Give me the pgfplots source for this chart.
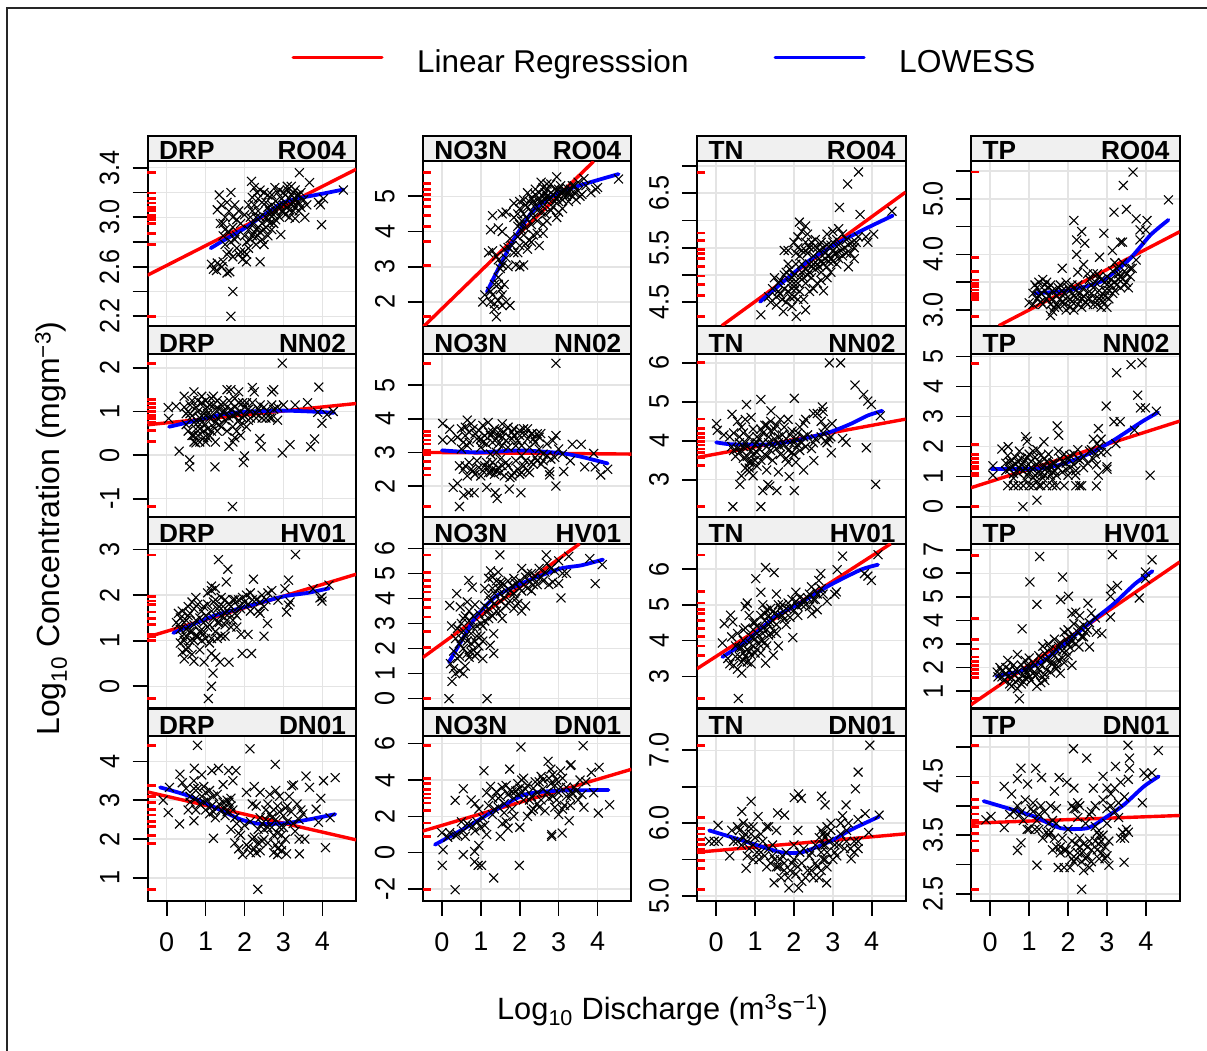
\documentclass[border=0pt]{standalone}
\usepackage{fontspec}
\setmainfont{Liberation Sans}
\newfontfamily\rotf[FakeStretch=0.9]{Liberation Sans}
\usepackage{pgfplots}
\pgfplotsset{compat=1.18}
\definecolor{gridc}{HTML}{E4E4E4}
\definecolor{stripc}{HTML}{F0F0F0}
\pgfplotsset{
  pan/.style n args={5}{
    at={(#1pt,-#2pt)},anchor=north west,scale only axis,
    width=208.7pt,height=#3pt,
    xmin=-0.494,xmax=4.87,ymin=#4,ymax=#5,
    xtick={0,1,2,3,4},
    tick align=outside,tick pos=left,major tick length=15pt,
    every tick/.style={black,line width=1.6pt},
    axis line style={line width=2pt,black},
    grid=major,grid style={gridc,line width=1.5pt},
    y tick label style={rotate=90,anchor=south,font=\fontsize{28}{28}\selectfont\rotf,yshift=9.5pt},
    x tick label style={font=\fontsize{27}{27}\selectfont,yshift=-13pt},
  },
  nox/.style={xticklabels={},x tick style={draw=none},xtick style={draw=none}},
  withx/.style={xticklabels={0,1,2,3,4}},
}
\newcommand\extra[1]{%
  \addplot[only marks,mark=x,mark size=6.3,mark options={black,line width=1.1pt},forget plot] coordinates {#1};
}
\newcommand\series[4]{%
  \addplot[only marks,mark=x,mark size=6.3,mark options={black,line width=1.1pt},forget plot] coordinates {#1};
  \addplot[only marks,mark=-,mark size=4.2,mark options={red,line width=2.8pt},forget plot] coordinates {#2};
  \addplot[red,line width=3.4pt,forget plot] coordinates {#3};
  \addplot[blue,line width=3.8pt,line cap=round,smooth,tension=0.4,forget plot] coordinates {#4};
}
\newcommand\Strip[5]{%
  \pgfmathsetmacro\rr{#1+208.7}\pgfmathsetmacro\la{#1+11.5}\pgfmathsetmacro\ra{#1+198.7}%
  \path[fill=stripc,draw=black,line width=2pt] (#1pt,-#2pt) rectangle (\rr pt,-#3pt);
  \node[anchor=base west,inner sep=0pt,font=\fontsize{26.2}{26}\selectfont\bfseries] at (\la pt,-#3pt+1.5pt) {#4};
  \node[anchor=base east,inner sep=0pt,font=\fontsize{26.2}{26}\selectfont\bfseries] at (\ra pt,-#3pt+1.5pt) {#5};
}
\begin{document}
\begin{tikzpicture}
\path[use as bounding box,fill=white] (0pt,0pt) rectangle (1207pt,-1051pt);
\draw[line width=1.8pt,black!85] (7pt,-1051pt)--(7pt,-8.3pt)--(1207pt,-8.3pt);
% legend
\draw[red,line width=3pt,line cap=round] (293pt,-57.3pt)--(382pt,-57.3pt);
\draw[blue,line width=3pt,line cap=round] (775pt,-57.3pt)--(864pt,-57.3pt);
\node[anchor=base west,inner sep=0pt,font=\fontsize{31.5}{32}\selectfont] at (417pt,-72.3pt) {Linear Regresssion};
\node[anchor=base west,inner sep=0pt,font=\fontsize{31.8}{32}\selectfont] at (899pt,-72.3pt) {LOWESS};
% axis titles
\node[rotate=90,anchor=center,inner sep=0pt,font=\fontsize{32}{33}\selectfont] at (51pt,-528.5pt) {Log\textsubscript{10} Concentration (mgm\textsuperscript{−3})};
\node[anchor=base,inner sep=0pt,font=\fontsize{30.8}{31}\selectfont] at (662.5pt,-1019pt) {Log\textsubscript{10} Discharge (m\textsuperscript{3}s\textsuperscript{−1})};
% strips
\Strip{147.5}{135.7}{161.3}{DRP}{RO04}\Strip{422.7}{135.7}{161.3}{NO3N}{RO04}\Strip{696.9}{135.7}{161.3}{TN}{RO04}\Strip{971}{135.7}{161.3}{TP}{RO04}
\Strip{147.5}{325.7}{353.5}{DRP}{NN02}\Strip{422.7}{325.7}{353.5}{NO3N}{NN02}\Strip{696.9}{325.7}{353.5}{TN}{NN02}\Strip{971}{325.7}{353.5}{TP}{NN02}
\Strip{147.5}{517.3}{543.7}{DRP}{HV01}\Strip{422.7}{517.3}{543.7}{NO3N}{HV01}\Strip{696.9}{517.3}{543.7}{TN}{HV01}\Strip{971}{517.3}{543.7}{TP}{HV01}
\Strip{147.5}{708.6}{735.7}{DRP}{DN01}\Strip{422.7}{708.6}{735.7}{NO3N}{DN01}\Strip{696.9}{708.6}{735.7}{TN}{DN01}\Strip{971}{708.6}{735.7}{TP}{DN01}

% ---------- row 1
\begin{axis}[pan={147.5}{161.3}{164.4}{2.124}{3.452},nox,ytick={2.2,2.4,2.6,2.8,3.0,3.2,3.4},yticklabels={2.2,{},2.6,{},3.0,{},3.4}]
\extra{(1.5,2.9)(1.55,2.7)(1.6,2.72)(1.7,2.68)(1.75,2.82)(1.85,2.7)(1.95,2.66)(2.05,2.7)(2.1,2.75)(2.15,2.82)(2.25,2.88)(2.3,2.84)(2.35,2.92)(2.4,2.88)(2.45,2.82)(2.5,2.9)(2.55,2.92)(2.6,2.98)(2.65,3.02)(2.7,2.9)(2.75,2.95)(2.8,3.05)(2.85,3.08)(2.9,3.1)(2.95,3.05)(3.0,3.1)(3.05,3.02)(3.1,3.08)(3.15,3.06)(3.2,3.1)(3.25,3.05)(3.3,3.15)(3.35,3.12)(3.4,3.12)(3.45,3.08)(2.35,3.15)(2.4,3.22)(2.55,3.12)(2.6,3.18)(2.65,3.05)(2.2,3.16)(2.3,3.0)(2.2,3.05)(1.4,3.1)(1.45,2.95)(1.55,3.12)(1.7,3.0)(1.8,2.98)(1.6,2.88)(2.0,2.85)(3.1,3.25)(3.2,3.18)(3.3,3.22)(3.4,3.18)(3.05,3.18)(2.9,3.22)}
\series{(1.65,2.2)(1.7,2.4)(3.41,3.36)(3.67,3.28)(3.98,2.94)(2.93,2.86)(4.54,3.22)(4.03,3.15)(3.9,3.12)(3.95,3.1)(1.15,2.62)(1.2,2.58)(1.3,2.63)(1.42,2.6)(1.45,2.64)(1.55,2.55)(1.28,2.57)(1.62,2.56)(2.05,2.64)(2.4,2.64)(1.35,3.18)(1.65,3.2)(1.3,3.06)(2.18,3.29)(2.25,3.24)(2.32,3.2)(2.78,3.24)(2.85,3.2)(3.1,3.22)(3.25,3.2)(3.2,3.25)(3.35,3.18)(3.45,3.2)(3.52,3.14)(3.6,3.1)(3.4,3.05)(3.55,3.0)(3.3,2.99)(3.15,3.0)(3.0,3.05)(2.8,2.98)(2.6,2.85)(2.45,2.95)(2.5,2.78)(2.2,2.85)(2.05,2.8)(2.0,2.72)(1.9,2.72)(1.8,2.75)(1.65,2.8)(1.5,2.78)(1.45,2.85)(1.38,2.95)(1.5,3.0)(1.6,3.05)(1.75,3.1)(1.85,3.05)(1.9,2.95)(2.0,3.02)(2.1,3.1)(2.25,3.1)(2.35,3.05)(2.45,3.12)(2.6,3.08)(2.7,3.1)(2.8,3.13)(2.95,3.15)(3.05,3.12)(3.15,3.15)(3.25,3.12)(2.2,2.95)(2.3,2.9)(2.4,3.0)(2.55,3.0)(2.65,2.95)(2.75,3.02)(2.9,3.0)(1.7,2.92)(1.8,2.85)(2.1,2.9)(2.15,3.0)(2.3,2.78)(2.7,3.18)(3.0,3.2)(3.3,3.08)(2.5,3.2)}
{(-.39,3.363)(-.39,3.196)(-.39,3.15)(-.39,3.115)(-.39,3.08)(-.39,3.053)(-.39,3.018)(-.39,3.0)(-.39,2.983)(-.39,2.951)(-.39,2.87)(-.39,2.78)(-.39,2.2)}
{(-0.494,2.532)(4.87,3.388)}
{(1.13,2.75)(1.5,2.82)(2,2.91)(2.5,3.02)(3,3.12)(3.5,3.16)(4,3.19)(4.54,3.224)}
\end{axis}
\begin{axis}[pan={422.7}{161.3}{164.4}{1.327}{5.993},nox,ytick={2,3,4,5},yticklabels={2,3,4,5}]
\extra{(2.0,4.2)(2.1,4.5)(2.15,4.75)(2.25,4.85)(2.35,4.85)(2.45,4.9)(2.5,4.95)(2.55,4.85)(2.6,5.0)(2.65,5.1)(2.7,5.0)(2.75,4.9)(2.8,4.95)(2.85,5.05)(2.9,4.85)(2.95,4.95)(3.0,5.2)(3.05,5.1)(3.1,4.9)(3.15,5.15)(3.2,5.0)(3.25,5.1)(3.3,5.05)(3.35,5.3)(3.4,5.1)(3.5,5.15)(3.55,5.0)(2.4,5.2)(2.6,5.25)(2.7,5.35)(2.45,4.6)(2.65,4.5)(2.35,4.4)(2.2,4.35)(2.05,4.05)(1.95,3.85)(2.0,3.6)(1.85,3.4)(1.7,3.55)(1.65,3.25)(2.15,3.65)(2.35,3.9)(2.45,3.95)(2.6,3.95)(2.25,3.75)(1.4,3.3)(1.5,2.95)(1.45,2.5)(1.3,2.2)(1.25,2.3)(1.95,4.15)(2.85,4.7)(3.0,4.85)}
\series{(1.4,1.58)(1.34,1.79)(4.54,5.49)(3.83,5.1)(1.1,2.2)(1.05,2.0)(1.25,2.0)(1.35,1.95)(1.45,2.05)(1.55,1.9)(1.65,2.0)(1.75,1.9)(1.35,2.5)(1.45,2.7)(1.5,2.35)(1.55,2.2)(1.6,2.5)(1.2,3.4)(1.3,3.45)(1.45,3.2)(1.55,3.05)(1.7,3.0)(1.9,3.05)(2.0,3.0)(2.1,3.05)(1.95,3.4)(2.2,3.5)(2.3,3.7)(2.5,3.6)(2.1,3.9)(1.8,3.6)(1.75,3.8)(1.6,3.5)(1.45,4.1)(1.55,4.0)(1.25,4.05)(1.3,4.45)(1.65,4.55)(1.55,4.5)(1.85,4.4)(1.95,4.5)(2.05,4.3)(2.15,4.1)(2.3,4.2)(2.45,4.3)(2.6,4.2)(2.7,4.3)(2.95,4.4)(3.0,4.55)(3.1,4.65)(2.8,4.6)(2.6,4.7)(2.4,4.75)(2.2,4.7)(2.1,4.9)(2.0,4.85)(2.3,4.95)(2.4,5.05)(2.5,5.1)(2.55,5.4)(2.7,5.2)(2.8,5.1)(2.9,5.2)(3.0,5.0)(3.15,5.05)(3.2,5.25)(2.8,5.35)(2.95,5.55)(3.05,5.3)(3.3,5.2)(3.4,5.3)(3.5,5.4)(3.65,5.5)(3.7,5.3)(3.25,4.85)(3.45,4.9)(3.6,5.05)(3.95,5.2)(4.0,5.25)(2.65,4.9)(2.2,5.1)(1.85,4.8)(2.0,4.65)(2.3,4.55)(2.55,4.55)(3.35,5.0)(3.1,5.15)}
{(-.39,5.68)(-.39,5.37)(-.39,5.19)(-.39,5.04)(-.39,4.91)(-.39,4.72)(-.39,4.45)(-.39,4.14)(-.39,3.72)(-.39,3.04)(-.39,1.58)}
{(-0.494,1.28)(3.9,5.99)}
{(1.157,2.28)(1.41,2.86)(1.84,3.76)(2.36,4.61)(2.96,5.08)(3.73,5.37)(4.54,5.63)}
\end{axis}
\begin{axis}[pan={696.9}{161.3}{164.4}{4.07}{7.086},nox,ytick={4.5,5,5.5,6,6.5,7},yticklabels={4.5,{},5.5,{},6.5,{}}]
\extra{(1.45,4.75)(1.55,4.6)(1.65,4.65)(1.75,4.75)(1.85,4.7)(1.95,4.75)(2.0,4.85)(2.1,4.85)(2.15,4.95)(2.25,4.95)(2.3,5.1)(2.4,5.05)(2.35,5.0)(2.45,5.15)(2.5,5.2)(2.6,5.2)(2.65,5.15)(2.7,5.25)(2.75,5.2)(2.8,5.3)(2.85,5.15)(2.9,5.35)(2.95,5.3)(3.0,5.25)(3.0,5.45)(3.1,5.4)(3.15,5.3)(3.2,5.45)(3.3,5.5)(3.35,5.4)(3.4,5.55)(3.5,5.6)(3.6,5.6)(2.2,5.45)(2.3,5.6)(2.4,5.5)(2.5,5.5)(2.55,5.65)(2.65,5.45)(2.75,5.5)(2.85,5.55)(2.1,5.5)(2.05,5.4)(1.9,5.1)(1.75,5.0)(2.0,4.6)(2.15,4.7)(2.4,4.7)(2.7,4.9)(3.0,5.6)(3.1,5.65)}
\series{(3.66,6.89)(3.38,6.67)(3.17,6.24)(3.7,6.11)(4.52,6.17)(2.76,4.71)(1.15,4.27)(1.73,4.33)(2.06,4.24)(2.3,4.36)(2.14,5.97)(2.3,5.9)(1.5,4.95)(1.35,4.6)(1.4,4.5)(1.55,4.45)(1.6,4.7)(1.7,4.55)(1.8,4.5)(1.9,4.6)(1.95,4.42)(2.1,4.55)(2.25,4.55)(2.05,4.75)(1.9,4.85)(1.8,5.05)(1.65,4.9)(1.75,5.45)(1.85,5.45)(2.0,5.6)(2.1,5.7)(2.2,5.8)(2.35,5.75)(2.45,5.6)(2.3,5.45)(2.15,5.35)(2.05,5.2)(2.2,5.05)(2.3,4.85)(2.45,4.95)(2.55,5.1)(2.7,5.05)(2.85,4.95)(2.95,5.05)(2.65,5.3)(2.8,5.4)(2.7,5.6)(2.85,5.75)(3.0,5.8)(3.15,5.85)(3.25,5.75)(3.35,5.65)(3.15,5.55)(3.05,5.4)(3.25,5.35)(3.45,5.4)(3.55,5.5)(3.65,5.7)(3.85,5.7)(3.9,5.6)(4.05,5.75)(3.55,5.3)(3.4,5.15)(3.1,5.2)(2.9,5.25)(2.5,5.35)(2.4,5.2)(2.6,5.5)(2.0,5.0)(1.85,5.2)(2.2,5.2)(2.35,5.4)(2.5,4.75)(2.6,4.85)(1.6,4.85)(1.95,4.95)(2.95,5.55)}
{(-.39,6.885)(-.39,5.77)(-.39,5.63)(-.39,5.47)(-.39,5.39)(-.39,5.31)(-.39,5.15)(-.39,4.98)(-.39,4.83)(-.39,4.63)(-.39,4.24)}
{(0.146,4.07)(4.87,6.52)}
{(1.13,4.51)(1.73,4.878)(2.42,5.28)(3.19,5.61)(3.87,5.86)(4.54,6.09)}
\end{axis}
\begin{axis}[pan={971}{161.3}{164.4}{2.718}{5.674},nox,ytick={3,3.5,4,4.5,5,5.5},yticklabels={3.0,{},4.0,{},5.0,{}}]
\extra{(1.1,3.3)(1.2,3.4)(1.25,3.25)(1.35,3.1)(1.4,3.45)(1.45,3.2)(1.5,3.4)(1.55,3.1)(1.6,3.35)(1.65,3.05)(1.7,3.25)(1.75,3.4)(1.8,3.2)(1.85,3.35)(1.9,3.1)(1.95,3.2)(2.0,3.4)(2.05,3.2)(2.1,3.15)(2.1,3.45)(2.2,3.35)(2.25,3.2)(2.3,3.3)(2.35,3.05)(2.4,3.25)(2.5,3.1)(2.55,3.2)(2.6,3.3)(2.65,3.4)(2.7,3.2)(2.75,3.1)(2.8,3.35)(2.85,3.25)(2.9,3.15)(2.95,3.25)(3.0,3.45)(3.05,3.35)(3.1,3.55)(3.15,3.3)(3.2,3.5)(3.25,3.45)(3.3,3.65)(3.35,3.6)(3.4,3.55)(3.45,3.45)(3.5,3.65)(3.55,3.4)(3.6,3.75)(2.65,3.65)(2.8,3.6)(2.95,3.5)(3.2,3.85)}
\series{(3.67,5.48)(3.42,5.24)(4.58,4.98)(3.5,4.81)(3.18,4.76)(3.75,4.64)(4.03,4.61)(2.15,4.61)(2.35,4.41)(2.22,4.26)(2.43,4.2)(2.92,4.38)(3.35,4.22)(3.4,4.22)(3.85,4.44)(4.0,4.44)(3.85,4.26)(2.22,4.0)(3.14,4.07)(2.81,3.95)(1.85,3.75)(2.4,3.82)(2.25,3.68)(1.0,3.13)(1.1,3.1)(1.2,3.2)(1.3,3.3)(1.15,3.45)(1.25,3.5)(1.35,3.55)(1.45,3.5)(1.55,3.45)(1.4,3.35)(1.5,3.25)(1.6,3.2)(1.7,3.1)(1.55,2.9)(1.6,2.98)(1.75,3.05)(1.85,3.15)(1.9,3.3)(1.8,3.45)(1.95,3.5)(2.05,3.35)(2.15,3.25)(2.05,3.05)(1.95,3.0)(2.15,3.0)(2.25,3.1)(2.35,3.2)(2.45,3.15)(2.5,3.3)(2.4,3.4)(2.6,3.45)(2.7,3.5)(2.55,3.55)(2.65,3.1)(2.8,3.2)(2.85,3.05)(3.0,3.05)(3.05,3.2)(2.95,3.35)(2.85,3.55)(3.0,3.6)(3.1,3.45)(3.2,3.35)(3.3,3.55)(3.35,3.4)(3.5,3.5)(3.6,3.6)(3.45,3.7)(3.25,3.75)(3.4,3.85)(3.65,3.75)(3.75,3.9)(2.75,3.65)(2.5,3.65)(1.3,3.15)(1.7,3.35)(2.25,3.45)(3.15,3.7)}
{(-.39,5.48)(-.39,3.95)(-.39,3.69)(-.39,3.54)(-.39,3.48)(-.39,3.42)(-.39,3.36)(-.39,3.30)(-.39,3.24)(-.39,3.19)(-.39,2.89)}
{(0.22,2.718)(4.87,4.408)}
{(1.15,3.30)(1.98,3.35)(2.84,3.51)(3.56,3.90)(4.12,4.35)(4.58,4.62)}
\end{axis}

% ---------- row 2
\begin{axis}[pan={147.5}{353.5}{163.8}{-1.426}{2.33},nox,ytick={-1,0,1,2},yticklabels={-1,0,1,2}]
\extra{(.6,.95)(.7,.75)(.75,.6)(.8,.45)(.85,.85)(.9,.75)(.95,.4)(1.0,1.05)(1.05,.6)(1.1,1.15)(1.15,.9)(1.2,.65)(1.25,1.05)(1.3,1.25)(1.3,.85)(1.35,.7)(1.4,1.15)(1.45,1.0)(1.5,.8)(1.55,1.1)(1.55,.55)(1.6,.85)(1.65,1.05)(1.7,.65)(1.75,1.3)(1.8,.95)(1.85,.8)(1.9,.45)(1.95,1.2)(2.0,.9)(2.05,.65)(2.1,1.05)(2.15,.85)(2.2,1.2)(2.3,.95)(2.4,1.15)(2.45,.85)(2.6,1.0)(2.65,.85)(2.75,1.05)(.65,1.25)(.8,1.25)(1.0,1.25)(1.15,1.3)(.7,.45)(.8,.75)(.9,.9)(1.05,.95)(.55,1.0)(.45,1.1)}
\series{(2.97,2.11)(1.69,-1.18)(1.24,-.27)(.59,-.11)(.59,-.27)(.32,.09)(3.91,1.56)(3.99,.73)(3.62,1.2)(.04,1.09)(.24,1.12)(.05,.84)(2.0,-0.02)(1.97,-.17)(2.97,.05)(3.17,.24)(3.7,.19)(3.8,.37)(2.39,.38)(2.43,.19)(4.28,1.0)(4.12,.93)(3.88,.98)(.45,1.35)(.7,1.45)(.9,1.35)(1.2,1.35)(1.55,1.5)(1.65,1.5)(1.85,1.45)(2.2,1.55)(2.25,1.45)(2.7,1.45)(2.75,1.5)(.5,.7)(.55,.55)(.65,.45)(.7,.3)(.75,.28)(.85,.3)(1.0,.3)(1.1,.45)(1.25,.3)(1.3,.55)(1.6,.2)(1.7,.3)(1.75,.4)(1.8,.55)(1.9,.7)(1.95,.85)(2.1,.8)(2.3,.85)(2.55,.85)(2.7,.85)(2.85,.8)(.5,.95)(.65,.9)(.8,1.0)(.95,.95)(1.1,.85)(1.25,.75)(1.4,.9)(1.5,1.0)(.6,1.15)(.75,1.1)(.9,1.2)(1.05,1.1)(1.2,1.15)(1.35,1.05)(1.45,1.2)(1.6,1.25)(1.75,1.1)(1.85,1.2)(2.0,1.1)(2.15,1.0)(2.35,1.05)(2.5,1.1)(2.7,1.15)(2.85,1.1)(3.0,1.15)(3.3,1.15)(.85,.6)(1.0,.7)(1.15,.55)(1.4,.65)(1.7,.9)(1.9,1.0)(2.05,1.2)(1.05,.4)(.95,.55)}
{(-.39,2.107)(-.39,1.275)(-.39,1.183)(-.39,1.09)(-.39,1.008)(-.39,.916)(-.39,.84)(-.39,.74)(-.39,.573)(-.39,.32)(-.39,-1.183)}
{(-0.494,0.695)(4.87,1.183)}
{(.06,.65)(.74,.79)(1.46,.94)(2.09,1.0)(2.99,1.02)(3.7,1.0)(4.3,.97)}
\end{axis}
\begin{axis}[pan={422.7}{353.5}{163.8}{1.07}{5.94},nox,ytick={2,3,4,5},yticklabels={2,3,4,5}]
\extra{(.55,3.3)(.6,3.75)(.7,3.6)(.85,3.55)(.95,3.65)(1.0,3.4)(1.05,3.3)(1.15,3.25)(1.25,3.5)(1.3,3.6)(1.4,3.4)(1.45,3.25)(1.5,3.65)(1.55,3.45)(1.65,3.35)(1.7,3.15)(1.8,3.6)(1.85,3.5)(1.95,3.35)(2.0,3.65)(2.05,3.2)(2.15,3.55)(2.2,3.7)(2.3,3.55)(2.35,3.4)(2.45,3.55)(2.5,3.45)(.6,2.6)(.75,2.5)(.85,2.35)(.95,2.55)(1.05,2.45)(1.15,2.7)(1.2,2.55)(1.25,2.4)(1.3,2.5)(1.4,2.45)(1.5,2.4)(1.55,2.6)(1.65,2.7)(1.8,2.3)(1.95,2.5)(2.05,2.4)(2.15,2.75)(2.25,2.4)(2.35,2.65)(2.45,2.75)(2.6,2.75)(2.8,2.8)(2.9,2.85)(.5,3.1)(.65,3.2)}
\series{(2.93,5.65)(.45,1.39)(2.93,2.0)(2.03,1.8)(1.42,1.63)(1.37,1.8)(1.73,1.91)(1.15,1.96)(.29,1.96)(.4,2.08)(.56,1.73)(.69,1.8)(.83,1.8)(4.08,2.33)(4.26,2.5)(3.13,2.43)(2.77,2.43)(2.77,2.33)(.02,3.86)(.2,3.69)(.02,3.37)(.24,3.37)(.65,3.96)(1.19,3.89)(2.32,3.56)(2.54,3.56)(2.93,3.5)(3.35,3.24)(3.58,3.24)(3.9,2.97)(3.67,2.57)(3.94,2.57)(.5,3.7)(.6,3.5)(.7,3.3)(.8,3.7)(.9,3.4)(1.0,3.15)(1.1,3.5)(1.2,3.6)(1.3,3.3)(1.35,3.7)(1.45,3.5)(1.55,3.2)(1.6,3.6)(1.7,3.75)(1.8,3.4)(1.9,3.2)(2.0,3.5)(2.1,3.7)(2.2,3.4)(2.25,3.15)(2.4,3.3)(2.5,3.1)(2.7,3.25)(2.85,3.35)(2.6,2.95)(3.0,3.1)(.55,2.5)(.65,2.3)(.7,2.7)(.8,2.45)(.9,2.75)(1.0,2.3)(1.1,2.6)(1.2,2.4)(1.3,2.7)(1.35,2.35)(1.45,2.55)(1.5,2.8)(1.6,2.3)(1.7,2.6)(1.75,2.25)(1.85,2.4)(1.9,2.75)(2.0,2.35)(2.1,2.6)(2.2,2.45)(2.3,2.7)(2.4,2.85)(2.55,2.65)(2.7,2.9)(3.1,2.95)(3.3,2.75)(1.05,3.8)(1.55,3.85)(.75,3.85)(1.85,3.7)(.45,2.6)(.4,3.45)(2.05,2.9)(1.4,3.0)(1.25,2.95)}
{(-.39,5.65)(-.39,3.63)(-.39,3.5)(-.39,3.37)(-.39,3.25)(-.39,3.07)(-.39,2.99)(-.39,2.92)(-.39,2.72)(-.39,2.52)(-.39,2.33)(-.39,1.39)}
{(-0.494,3.0)(4.87,2.95)}
{(0,3.06)(.87,3.0)(1.78,3.05)(2.23,3.05)(3.04,2.98)(3.58,2.87)(4.26,2.67)}
\end{axis}
\begin{axis}[pan={696.9}{353.5}{163.8}{2.036}{6.241},nox,ytick={3,4,5,6},yticklabels={3,4,5,6}]
\extra{(.45,3.75)(.55,3.8)(.6,4.1)(.65,3.75)(.7,4.2)(.75,3.95)(.8,3.85)(.85,3.45)(.9,3.75)(.95,4.3)(1.0,3.5)(1.05,4.1)(1.1,3.8)(1.15,4.3)(1.2,3.95)(1.25,4.4)(1.3,3.85)(1.35,4.1)(1.4,4.25)(1.45,3.9)(1.5,4.05)(1.55,4.4)(1.6,3.95)(1.65,3.85)(1.7,4.15)(1.75,3.9)(1.8,4.05)(1.85,3.75)(1.9,3.95)(1.95,4.25)(2.0,3.65)(2.05,4.05)(2.1,3.9)(2.15,4.35)(2.2,3.95)(2.25,4.1)(2.35,4.15)(2.5,3.95)(2.75,4.2)(2.8,4.0)(2.9,4.05)(.7,3.55)(.85,3.3)(.95,3.65)(1.05,3.95)(1.3,3.6)(1.45,3.5)(2.7,4.5)}
\series{(2.91,6)(3.2,6)(3.57,5.43)(3.79,5.19)(3.9,5.02)(3.99,4.93)(4.22,4.64)(4.1,2.88)(3.86,3.82)(.43,2.31)(1.15,2.31)(2.01,5.09)(1.15,5.06)(.78,4.93)(.41,4.68)(1.41,4.77)(.01,4.44)(.03,4.27)(2.01,2.72)(1.56,2.72)(1.2,2.72)(1.33,2.88)(1.38,2.84)(.61,2.88)(1.88,3.08)(1.6,3.2)(2.25,3.25)(2.51,3.49)(2.96,3.69)(3.25,4.06)(3.34,3.96)(2.73,4.87)(2.5,4.7)(2.98,4.44)(.2,4.15)(.35,4.1)(.45,4.2)(.55,4.5)(.65,4.35)(.75,4.55)(.9,4.6)(.5,3.6)(.6,3.7)(.7,3.85)(.8,3.6)(.9,3.45)(.85,3.2)(.75,3.3)(.65,3.1)(.95,3.1)(1.05,3.35)(1.15,3.5)(1.25,3.65)(1.0,3.9)(1.1,4.05)(1.2,4.2)(1.3,4.4)(1.4,4.5)(1.5,4.3)(1.6,4.1)(1.65,4.55)(1.85,4.55)(1.75,4.35)(1.9,4.15)(2.0,3.95)(2.1,4.2)(2.25,4.45)(2.3,4.55)(2.15,3.75)(1.95,3.7)(1.8,3.55)(1.65,3.65)(1.55,3.8)(1.4,3.75)(1.35,3.95)(2.05,3.45)(1.85,3.45)(2.3,3.85)(2.45,3.8)(2.55,4.05)(2.7,4.1)(2.85,3.95)(2.95,4.1)(2.8,4.35)(2.6,4.7)(2.75,4.75)(.85,4.1)(.6,3.95)(.4,3.85)(1.05,3.7)(1.3,3.25)}
{(-.39,6)(-.39,4.56)(-.39,4.32)(-.39,4.19)(-.39,4.09)(-.39,3.99)(-.39,3.89)(-.39,3.79)(-.39,3.7)(-.39,3.57)(-.39,3.37)(-.39,2.31)}
{(-0.494,3.57)(4.87,4.556)}
{(0,3.96)(.39,3.91)(1.38,3.91)(2.01,4.0)(2.91,4.22)(3.45,4.43)(3.9,4.65)(4.27,4.77)}
\end{axis}
\begin{axis}[pan={971}{353.5}{163.8}{-0.352}{5.1},nox,ytick={0,1,2,3,4,5},yticklabels={0,1,2,3,4,5}]
\extra{(.4,1.45)(.45,1.7)(.5,1.25)(.55,1.55)(.6,1.1)(.65,1.4)(.7,1.5)(.75,1.3)(.8,1.6)(.85,1.45)(.9,1.3)(.95,1.65)(1.0,1.15)(1.05,1.5)(1.1,1.25)(1.15,1.05)(1.2,1.4)(1.25,1.15)(1.3,1.7)(1.35,1.3)(1.4,1.05)(1.45,1.5)(1.5,1.2)(1.55,1.35)(1.6,1.15)(1.65,1.45)(1.7,1.05)(1.75,1.3)(1.8,1.6)(1.85,1.15)(1.9,1.75)(1.95,1.45)(2.0,1.6)(2.05,1.3)(2.15,1.75)(2.2,1.2)(2.25,1.6)(2.4,1.65)(2.5,1.45)(2.6,1.9)(2.7,1.75)(2.8,2.0)(2.85,1.8)(1.2,.85)(.9,.9)(1.6,.9)(.6,.95)(1.1,1.85)}
\series{(3.25,4.46)(3.62,4.73)(3.9,4.79)(3.79,3.71)(3.86,3.29)(3.99,3.29)(4.27,3.18)(4.11,1.05)(2.98,3.35)(3.18,2.83)(3.34,2.83)(.84,0)(1.2,.22)(2.73,.69)(1.72,2.69)(1.76,2.38)(2.78,2.6)(.91,2.33)(.95,2.18)(.07,1.05)(.07,1.36)(.3,1.92)(.46,2.0)(1.38,2.16)(3.71,2.55)(3.23,2.1)(3,1.83)(3,1.33)(3,1.25)(2.78,1.05)(2.73,1.39)(2.19,1.05)(.45,.7)(.6,.7)(.72,.7)(.85,.7)(1,.7)(1.1,.7)(1.25,.7)(1.3,.7)(1.45,.7)(1.6,.7)(1.7,.7)(1.9,.7)(2.2,.7)(2.3,.7)(2.35,.7)(.4,1.2)(.5,1.5)(.55,1.35)(.65,1.65)(.7,1.15)(.8,1.4)(.9,1.55)(.95,1.05)(1.05,1.3)(1.15,1.65)(1.2,1.9)(1.25,1.5)(1.3,1.1)(1.35,.95)(1.45,1.3)(1.5,1.75)(1.6,1.45)(1.65,1.2)(1.75,1.85)(1.85,1.5)(1.95,1.25)(2.0,1.05)(2.05,1.7)(2.15,1.4)(2.25,1.9)(2.3,1.55)(2.4,1.3)(2.55,1.85)(2.65,1.6)(2.75,2.1)(2.85,2.25)(2.65,2.25)(1.0,1.75)(.75,1.85)(.85,1.2)(1.1,.95)(1.4,1.6)(1.55,1.05)}
{(-.39,4.78)(-.39,2.07)(-.39,1.75)(-.39,1.61)(-.39,1.47)(-.39,1.35)(-.39,1.27)(-.39,1.11)(-.39,1.03)(-.39,0)}
{(-0.494,0.632)(4.87,2.85)}
{(.03,1.26)(1.2,1.26)(1.83,1.41)(2.55,1.77)(3.18,2.22)(3.9,2.83)(4.31,3.14)}
\end{axis}

% ---------- row 3
\begin{axis}[pan={147.5}{543.7}{164.3}{-0.477}{3.13},nox,ytick={0,1,2,3},yticklabels={0,1,2,3}]
\extra{(.3,1.35)(.35,1.5)(.4,1.1)(.45,1.4)(.5,1.1)(.5,.8)(.55,1.55)(.6,1.0)(.6,1.6)(.65,1.2)(.7,1.7)(.75,1.45)(.75,1.1)(.8,1.8)(.85,1.2)(.9,1.65)(.95,1.4)(1.0,1.55)(1.0,1.05)(1.05,1.8)(1.1,1.35)(1.15,1.65)(1.2,1.5)(1.25,1.9)(1.3,1.4)(1.35,1.75)(1.4,1.55)(1.45,1.75)(1.5,1.9)(1.55,1.45)(1.6,1.6)(1.65,1.75)(1.7,1.9)(1.75,1.6)(1.8,1.55)(1.85,1.9)(1.9,1.7)(2.0,1.85)(2.1,1.8)(2.2,1.9)(2.4,1.6)(2.4,1.85)(2.55,1.9)(.5,1.25)(.9,1.25)(1.3,1.05)(1.5,1.1)(1.1,.95)(.7,1.0)(1.15,2.2)}
\series{(1.07,-.27)(1.15,0)(1.19,.29)(3.31,2.89)(1.33,2.78)(1.57,2.57)(1.53,2.29)(2.23,2.35)(3.13,2.33)(3.04,2.14)(2.5,1.1)(2.59,1.38)(1.94,.72)(2.18,.72)(2.09,1.14)(1.91,1.14)(1.6,.53)(1.37,.53)(1.15,.72)(1.26,.64)(.96,.53)(3.99,1.96)(3.99,1.87)(3.94,1.94)(4.17,2.22)(3.76,2.14)(3.17,1.85)(3.13,1.78)(3.08,1.63)(2.86,1.89)(.25,1.4)(.3,1.6)(.35,1.25)(.4,1.65)(.45,1.0)(.5,1.45)(.55,1.75)(.6,1.2)(.65,1.85)(.75,1.95)(.85,1.5)(.95,1.75)(1.05,2.05)(1.15,2.1)(1.2,1.85)(1.3,1.7)(1.25,2.15)(1.4,1.95)(.35,.95)(.4,.75)(.45,.6)(.55,.85)(.65,.7)(.7,.55)(.85,.8)(.8,1.1)(.95,1.15)(1.05,1.3)(1.15,1.05)(1.25,1.2)(1.4,1.1)(1.35,1.4)(1.5,1.6)(1.6,1.8)(1.7,1.45)(1.75,1.9)(1.85,1.75)(1.95,1.95)(2.05,2.0)(2.15,2.05)(2.3,1.9)(2.45,2.0)(2.6,2.05)(2.7,2.1)(2.35,1.65)(2.5,1.75)(2.15,1.65)(1.8,1.3)(1.65,1.3)(1.5,1.35)(.7,1.35)(.9,1.0)}
{(-.39,2.88)(-.39,1.975)(-.39,1.87)(-.39,1.8)(-.39,1.63)(-.39,1.485)(-.39,1.35)(-.39,1.14)(-.39,1.08)(-.39,1.01)(-.39,-.27)}
{(-0.494,1.08)(4.87,2.46)}
{(.17,1.17)(1.19,1.54)(2.09,1.76)(2.99,1.97)(3.62,2.05)(4.17,2.15)}
\end{axis}
\begin{axis}[pan={422.7}{543.7}{164.3}{-0.372}{6.184},nox,ytick={0,1,2,3,4,5,6},yticklabels={0,1,2,3,4,5,6}]
\extra{(.45,1.7)(.5,2.4)(.6,2.5)(.7,1.65)(.75,2.2)(.8,1.95)(.85,2.3)(.9,1.8)(.9,2.5)(.95,2.1)(1.0,3.0)(1.05,2.3)(1.1,3.1)(1.15,3.45)(1.2,3.6)(1.25,3.9)(1.3,3.3)(1.35,4.2)(1.4,3.5)(1.45,4.4)(1.5,3.9)(1.55,4.6)(1.6,4.0)(1.65,4.3)(1.7,4.7)(1.75,3.9)(1.8,4.5)(1.85,4.2)(1.9,4.6)(1.95,3.8)(2.0,4.7)(2.05,4.3)(2.1,4.55)(2.15,4.85)(2.2,4.4)(2.25,4.65)(2.3,5.0)(2.35,4.55)(2.4,4.9)(2.55,4.85)(2.65,5.05)(2.8,5.2)(2.9,5.1)(3.0,4.6)(1.1,4.4)(1.3,4.85)(1.5,4.65)(.6,3.3)(.55,3.2)(.8,2.85)}
\series{(.18,0)(1.16,0)(.26,.69)(1.49,5.74)(2.68,5.74)(3.26,5.68)(3.8,5.59)(4.12,5.35)(3.94,4.59)(3.06,4.02)(.2,3.72)(.38,4.19)(.47,3.66)(.69,4.72)(.78,4.45)(.65,3.86)(1.33,1.8)(1.24,2.13)(1.33,2.59)(1.05,1.6)(.22,1.4)(.3,1.2)(.35,1.0)(.45,1.1)(.55,1.0)(.6,1.3)(.4,1.6)(.3,1.9)(.35,2.4)(.45,2.2)(.55,2.0)(.65,1.8)(.75,1.85)(.85,1.7)(.65,2.3)(.75,2.6)(.55,2.7)(.5,3.0)(.4,2.8)(.25,2.9)(.7,3.1)(.8,3.3)(.9,2.9)(1.0,2.5)(.95,3.4)(.7,3.5)(.85,3.75)(1.05,2.9)(1.2,3.2)(1.1,3.7)(1.2,4.1)(1.3,4.4)(1.4,4.7)(1.2,4.8)(1.25,5.1)(1.45,5.05)(1.35,3.8)(1.5,3.5)(1.55,3.2)(1.65,3.7)(1.5,4.2)(1.6,4.55)(1.75,4.3)(1.9,4.0)(1.85,3.6)(2.05,3.5)(2.15,3.7)(2.0,4.4)(1.85,4.8)(2.05,5.2)(2.2,5.0)(2.35,4.8)(2.5,5.2)(2.3,4.3)(2.45,4.55)(2.6,4.7)(2.75,4.55)(2.85,4.65)(2.7,5.4)(3.1,5.0)(3.2,5.0)(3.0,5.5)}
{(-.39,5.73)(-.39,5.04)(-.39,4.72)(-.39,4.48)(-.39,4.26)(-.39,3.95)(-.39,3.63)(-.39,3.26)(-.39,2.67)(-.39,2.03)(-.39,0)}
{(-0.494,1.64)(3.54,6.184)}
{(.18,1.46)(.51,2.33)(.87,3.26)(1.42,4.12)(2.23,4.72)(3.04,5.19)(3.58,5.32)(4.14,5.55)}
\end{axis}
\begin{axis}[pan={696.9}{543.7}{164.3}{2.114}{6.707},nox,ytick={3,4,5,6},yticklabels={3,4,5,6}]
\extra{(.5,3.55)(.6,3.8)(.65,3.4)(.7,3.65)(.75,3.55)(.8,3.75)(.85,3.95)(.9,3.6)(.95,3.85)(1.0,4.05)(1.05,3.75)(1.05,4.4)(1.1,4.15)(1.15,4.0)(1.2,4.2)(1.25,3.95)(1.25,4.75)(1.3,4.3)(1.35,4.45)(1.35,4.7)(1.4,4.2)(1.4,4.9)(1.45,4.55)(1.5,4.75)(1.55,4.45)(1.6,4.7)(1.65,4.9)(1.7,5.0)(1.75,4.6)(1.8,4.9)(1.85,5.05)(1.9,4.65)(2.0,4.85)(2.05,5.1)(2.1,4.95)(2.15,5.2)(2.25,5.15)(2.3,5.0)(2.4,5.3)(2.5,5.15)(2.6,5.3)(2.7,5.45)(2.85,5.1)(.9,3.35)(.95,4.5)(1.15,3.65)(1.3,3.85)(1.55,4.2)(.7,4.3)}
\series{(.57,2.38)(1.27,6.04)(1.49,5.9)(1.02,5.73)(3.25,6.36)(4.16,6.4)(3.11,5.98)(1.97,4.08)(1.6,3.85)(1.47,3.59)(1.27,3.37)(.66,3.09)(.16,3.93)(.21,4.47)(.37,4.71)(.43,4.52)(3.81,5.87)(3.9,5.8)(3.99,5.68)(3.05,5.29)(3.09,5.36)(2.6,4.86)(2.46,4.75)(2.69,5.87)(2.64,5.68)(.3,3.5)(.35,3.35)(.45,3.3)(.55,3.2)(.6,3.55)(.65,3.8)(.7,3.45)(.8,3.4)(.85,3.7)(.5,3.85)(.4,4.1)(.55,4.2)(.7,4.0)(.9,4.1)(.75,4.35)(.85,4.7)(.75,4.95)(.8,5.05)(1.0,4.5)(1.05,4.2)(1.1,3.9)(1.15,4.7)(1.2,4.35)(1.0,3.65)(1.2,5.0)(1.15,5.35)(1.3,4.85)(1.4,4.5)(1.5,4.25)(1.45,4.8)(1.55,5.3)(1.6,5.0)(1.7,4.7)(1.8,4.45)(1.9,4.9)(1.95,5.15)(2.05,5.35)(2.2,5.0)(2.1,4.7)(2.35,5.2)(2.45,5.5)(2.55,5.4)(2.4,4.95)(2.55,5.15)(2.75,5.3)(1.35,4.15)(.95,4.3)(1.25,4.55)}
{(-.39,6.39)(-.39,5.37)(-.39,5.05)(-.39,4.87)(-.39,4.75)(-.39,4.57)(-.39,4.34)(-.39,4.12)(-.39,3.85)(-.39,3.58)(-.39,2.38)}
{(-0.494,3.21)(4.49,6.707)}
{(.16,3.54)(.75,3.96)(1.51,4.66)(2.1,5.01)(2.91,5.54)(3.72,5.98)(4.16,6.12)}
\end{axis}
\begin{axis}[pan={971}{543.7}{164.3}{0.278}{7.255},nox,ytick={1,2,3,4,5,6,7},yticklabels={1,2,3,4,5,6,7}]
\extra{(.2,1.6)(.3,1.85)(.35,1.45)(.4,2.0)(.45,1.6)(.5,1.9)(.55,1.2)(.6,2.1)(.65,1.4)(.7,1.8)(.75,1.5)(.8,2.1)(.85,1.4)(.9,1.55)(.95,1.75)(1.0,1.6)(1.05,1.95)(1.1,1.75)(1.15,2.1)(1.2,1.7)(1.25,2.5)(1.3,2.1)(1.35,1.6)(1.4,2.6)(1.45,1.9)(1.5,2.4)(1.55,2.8)(1.6,2.15)(1.65,2.5)(1.7,2.75)(1.75,2.3)(1.8,3.05)(1.85,2.7)(1.9,2.2)(1.95,3.2)(2.0,2.5)(2.05,2.85)(2.1,3.1)(2.15,3.3)(2.2,3.0)(2.25,3.5)(2.3,3.7)(2.4,3.3)(2.5,3.6)(2.55,3.9)(2.7,4.1)(1.7,1.95)(1.4,1.45)(1.0,2.0)(.9,2.3)}
\series{(.75,.67)(1.27,6.71)(3.14,6.79)(4.16,6.57)(1.02,5.63)(1.86,5.84)(1.2,4.68)(1.81,4.88)(2.01,5.02)(.82,3.64)(2.51,4.73)(3.09,5.02)(3.11,5.34)(3.27,5.48)(3.83,4.95)(3.09,4.14)(3.99,6.05)(3.99,5.77)(2.1,2.09)(2.87,3.43)(2.73,3.5)(2.55,2.87)(2.28,2.87)(.18,1.8)(.25,2.0)(.3,1.6)(.4,1.75)(.45,2.3)(.5,1.3)(.55,1.55)(.65,1.9)(.7,2.55)(.7,1.1)(.8,1.3)(.85,1.7)(.95,2.1)(1.0,2.4)(1.05,1.45)(1.15,1.65)(1.25,1.9)(1.3,1.35)(1.35,2.9)(1.3,2.4)(1.4,1.7)(1.45,2.3)(1.5,3.0)(1.55,1.8)(1.6,2.6)(1.65,3.2)(1.7,2.1)(1.75,2.9)(1.8,1.75)(1.85,2.4)(1.9,3.5)(1.95,2.7)(2.0,3.0)(2.05,3.3)(2.15,3.85)(2.2,4.35)(2.3,4.2)(2.4,3.8)(2.35,3.3)(2.45,3.5)(2.6,4.3)(2.1,4.3)(2.0,3.6)(1.55,2.2)(.9,1.9)(1.1,2.2)(.6,1.7)(1.2,1.2)}
{(-.39,6.77)(-.39,4.07)(-.39,3.18)(-.39,2.78)(-.39,2.44)(-.39,2.26)(-.39,2.09)(-.39,1.91)(-.39,1.74)(-.39,1.59)(-.39,.67)}
{(-0.494,0.418)(4.87,6.478)}
{(.16,1.62)(.84,1.88)(1.38,2.3)(2.01,3.15)(2.64,4.0)(3.18,4.71)(3.72,5.55)(4.17,6.09)}
\end{axis}

% ---------- row 4
\begin{axis}[pan={147.5}{735.7}{165}{0.416}{4.658},withx,ytick={1,2,3,4},yticklabels={1,2,3,4}]
\extra{(.6,2.95)(.7,3.3)(.75,3.05)(.85,2.9)(.9,3.1)(.95,3.35)(1.0,2.75)(1.05,3.0)(1.1,3.25)(1.15,2.85)(1.2,2.7)(1.3,3.15)(1.4,2.75)(1.45,2.95)(1.5,2.8)(1.55,2.7)(1.6,2.95)(1.65,3.05)(1.7,2.75)(1.75,2.55)(1.85,2.15)(2.0,2.35)(2.1,1.8)(2.15,2.45)(2.25,1.75)(2.35,2.25)(2.4,2.55)(2.45,1.95)(2.5,2.25)(2.55,2.5)(2.6,1.9)(2.65,2.65)(2.7,2.3)(2.75,2.75)(2.8,1.85)(2.8,2.5)(2.85,2.15)(2.9,2.7)(2.95,2.1)(3.0,2.3)(3.05,2.8)(3.1,2.45)(3.2,2.7)(3.3,2.2)(3.4,2.5)(3.45,2.75)(2.95,1.7)(2.75,1.65)(2.2,2.0)(2.3,2.85)(1.85,1.75)(2.6,2.9)(2.85,2.85)}
\series{(.79,4.41)(2.14,4.32)(2.79,3.92)(2.34,.71)(4.08,1.78)(3.41,1.62)(3.08,1.62)(1.2,2.02)(.04,2.68)(.33,2.39)(.7,2.47)(4.03,3.5)(4.33,3.58)(3.58,3.62)(3.67,3.33)(3.96,3.05)(3.84,2.77)(3.9,2.43)(4.2,2.55)(3.26,3.39)(3.21,3.37)(.71,3.82)(.34,3.67)(1.16,3.76)(1.33,3.82)(1.59,3.76)(1.78,3.76)(-.09,3)(.07,3.33)(.4,3.45)(.5,3.3)(.55,2.75)(.6,3.1)(.7,3.5)(.8,3.3)(.75,2.75)(.9,3.65)(.95,2.95)(1.0,3.2)(1.1,2.65)(1.2,3.1)(1.25,2.55)(1.35,2.9)(1.45,3.4)(1.5,2.6)(1.55,3.0)(1.65,2.85)(1.7,3.5)(1.65,2.25)(1.8,2.4)(1.9,2.1)(1.75,1.9)(1.95,1.6)(2.05,1.85)(2.15,1.65)(2.25,2.05)(2.3,1.65)(2.4,1.7)(2.5,2.0)(2.45,2.4)(2.2,2.9)(2.05,3.2)(2.25,3.35)(2.4,3.2)(2.55,2.75)(2.65,3.15)(2.7,2.55)(2.75,2.1)(2.8,3.25)(2.85,1.6)(2.9,2.3)(2.95,1.85)(3.0,2.6)(3.05,2.0)(3.15,3.1)(3.25,2.4)(3.35,2.9)(3.4,2.0)(3.55,2.0)(3.5,2.65)(2.9,3.1)(2.85,1.75)(2.6,2.3)(2.35,1.9)(3.1,2.85)}
{(-.39,4.41)(-.39,3.37)(-.39,3.09)(-.39,2.94)(-.39,2.77)(-.39,2.62)(-.39,2.45)(-.39,2.32)(-.39,2.1)(-.39,1.89)(-.39,.71)}
{(-0.494,3.213)(4.87,1.98)}
{(-.17,3.33)(.51,3.13)(1.2,2.83)(1.89,2.51)(2.4,2.39)(3.08,2.41)(3.68,2.51)(4.33,2.64)}
\end{axis}
\begin{axis}[pan={422.7}{735.7}{165}{-2.644}{6.44},withx,ytick={-2,0,2,4,6},yticklabels={-2,0,2,4,6}]
\extra{(.2,1.1)(.35,.95)(.55,1.2)(.65,1.6)(.8,1.45)(.9,1.7)(1.05,1.9)(1.1,1.5)(1.2,2.6)(1.3,3.0)(1.35,2.4)(1.4,3.35)(1.5,3.1)(1.55,3.6)(1.6,2.7)(1.65,1.7)(1.7,3.2)(1.75,3.45)(1.8,3.35)(1.85,2.0)(1.9,3.4)(1.95,3.2)(2.0,3.55)(2.05,3.3)(2.1,4.1)(2.15,3.5)(2.2,3.7)(2.25,2.9)(2.35,3.55)(2.45,3.3)(2.5,3.9)(2.55,2.9)(2.6,4.0)(2.7,3.3)(2.75,4.1)(2.8,3.8)(2.85,3.1)(2.9,2.5)(2.95,4.0)(3.0,3.3)(3.05,3.6)(3.15,2.6)(3.2,3.6)(3.3,3.1)(3.35,3.3)(3.45,3.4)(3.6,3.2)(3.7,3.9)(3.9,3.3)(2.5,2.5)(2.3,2.3)(3.1,2.4)}
\series{(3.63,5.89)(2.03,5.82)(.34,-2.04)(1.33,-1.39)(1.99,-.7)(.01,-.7)(.03,.16)(.93,-.7)(1.02,-.7)(.84,-.5)(.55,-.11)(.84,.07)(2.82,.9)(3.09,1.08)(2.82,1)(4.04,4.7)(3.84,4.42)(4.31,2.64)(4.02,2.18)(3.27,1.76)(2.73,5.03)(3.32,4.84)(.34,2.88)(.55,3.52)(1.08,4.51)(1.74,4.6)(.0,1.1)(.15,.85)(.4,1.0)(.5,1.7)(.6,.9)(.7,1.5)(.75,2.9)(.85,2.7)(.95,2.4)(1.0,1.4)(1.15,3.3)(1.15,1.0)(1.25,3.65)(1.3,2.1)(1.45,3.0)(1.5,.9)(1.55,1.6)(1.6,2.2)(1.65,3.7)(1.7,1.35)(1.85,3.0)(1.95,3.8)(2.05,4.0)(2.1,2.9)(2.0,1.4)(2.2,2.0)(2.3,3.1)(2.4,3.9)(2.45,2.7)(2.55,4.2)(2.6,3.5)(2.65,2.3)(2.75,3.0)(2.85,4.3)(2.9,3.7)(2.95,2.9)(3.0,2.1)(3.1,4.1)(3.2,3.1)(3.3,2.6)(3.4,3.6)(3.5,2.9)(3.55,4.0)(3.65,2.5)(2.8,4.6)(3.05,4.5)(3.3,4.8)(1.45,2.5)(1.8,2.4)(.85,1.2)(.95,.4)(2.35,2.4)}
{(-.39,5.91)(-.39,4.07)(-.39,3.83)(-.39,3.47)(-.39,3.23)(-.39,3.01)(-.39,2.73)(-.39,2.33)(-.39,1.63)(-.39,.9)(-.39,-2.02)}
{(-0.494,1.19)(4.87,4.59)}
{(-.18,.44)(.6,1.36)(1.31,2.27)(2.12,3.19)(2.93,3.41)(4.28,3.45)}
\end{axis}
\begin{axis}[pan={696.9}{735.7}{165}{4.935}{7.2},withx,ytick={5,5.5,6,6.5,7},yticklabels={5.0,{},6.0,{},7.0}]
\extra{(.45,5.75)(.55,5.75)(.6,5.9)(.7,5.8)(.8,5.75)(.85,5.65)(.9,5.85)(1.0,5.8)(1.05,5.6)(1.15,5.6)(1.25,5.55)(1.35,5.65)(1.45,5.55)(1.5,5.5)(1.55,5.4)(1.65,5.5)(1.75,5.45)(1.8,5.6)(1.9,5.35)(2.0,5.5)(2.1,5.4)(2.15,5.6)(2.2,5.2)(2.35,5.35)(2.45,5.6)(2.5,5.25)(2.6,5.4)(2.7,5.35)(2.75,5.5)(2.75,5.7)(2.8,5.8)(2.85,5.6)(2.9,5.75)(2.85,5.85)(2.95,5.9)(3.0,5.5)(3.05,5.6)(3.15,5.7)(3.2,6.0)(3.3,5.65)(3.35,5.9)(3.4,6.0)(3.55,5.6)(3.65,5.75)(3.65,5.65)(.95,5.95)(.7,6.0)(1.35,5.95)(2.55,5.7)(2.65,5.8)}
\series{(3.95,7.07)(3.65,6.7)(3.58,6.47)(2.12,6.4)(2.01,6.35)(2.19,6.34)(2.71,6.37)(2.8,6.25)(3.34,6.25)(.9,6.3)(.66,6.16)(1.08,6.09)(1.58,6.14)(1.76,6.11)(1.87,5.11)(2.12,5.11)(1.49,5.18)(1.67,5.25)(2.84,5.18)(.77,5.38)(3.83,6.13)(4.19,6.11)(-.18,5.75)(-.05,5.75)(.06,5.75)(.05,5.97)(3.47,5.51)(3.92,5.87)(.4,5.9)(.55,5.95)(.35,5.55)(.65,5.7)(.75,5.85)(.85,5.95)(.95,5.7)(.8,5.55)(.95,5.5)(1.1,5.5)(1.2,5.75)(1.3,5.95)(1.15,5.85)(1.4,5.45)(1.45,5.7)(1.55,5.9)(1.6,5.4)(1.7,5.55)(1.75,5.35)(1.85,5.25)(1.95,5.45)(2.0,5.7)(2.1,5.9)(2.05,5.3)(2.2,5.45)(2.3,5.25)(2.4,5.55)(2.45,5.35)(2.55,5.45)(2.65,5.25)(2.7,5.6)(2.75,5.85)(2.85,5.95)(2.8,5.5)(2.85,5.4)(2.95,6.0)(3.05,5.7)(3.1,5.55)(3.2,5.85)(3.25,6.1)(3.35,5.75)(3.45,5.65)(3.55,5.75)(3.65,6.05)(2.8,5.7)(2.7,5.9)(1.3,5.4)(2.25,5.65)}
{(-.39,7.07)(-.39,6.08)(-.39,5.93)(-.39,5.85)(-.39,5.77)(-.39,5.71)(-.39,5.64)(-.39,5.59)(-.39,5.49)(-.39,5.38)(-.39,5.09)}
{(-0.494,5.6)(4.87,5.853)}
{(-.18,5.9)(.32,5.82)(1.04,5.7)(1.67,5.6)(2.21,5.6)(2.93,5.75)(3.47,5.91)(4.19,6.09)}
\end{axis}
\begin{axis}[pan={971}{735.7}{165}{2.386}{5.192},withx,ytick={2.5,3,3.5,4,4.5,5},yticklabels={2.5,{},3.5,{},4.5,{}}]
\extra{(.6,3.9)(.75,3.85)(.8,3.9)(1.0,3.6)(1.1,4.05)(1.2,3.75)(1.25,3.6)(1.4,3.9)(1.45,3.55)(1.55,3.55)(1.65,3.45)(1.7,3.3)(1.8,3.3)(1.85,3.45)(1.95,3.25)(2.05,3.2)(2.1,3.1)(2.15,3.05)(2.2,3.35)(2.25,3.2)(2.3,3.45)(2.35,3.2)(2.4,3.35)(2.45,3.1)(2.5,3.3)(2.55,2.95)(2.6,3.25)(2.7,3.65)(2.7,3.4)(2.75,3.25)(2.8,3.5)(2.8,3.35)(2.85,3.2)(2.9,3.5)(2.95,3.1)(3.0,3.15)(3.0,3.95)(3.05,3.4)(3.1,4.2)(3.2,3.9)(3.3,3.8)(3.35,3.45)(3.45,3.45)(3.5,3.6)(3.3,4.05)(2.25,3.8)(2.15,3.95)(2.1,4.0)(2.55,3.85)(2.6,3.9)(1.5,3.7)(1.7,3.7)}
\series{(2.35,2.58)(2.14,4.97)(2.48,4.81)(3.54,5.03)(3.58,4.81)(4.32,4.94)(.79,4.64)(1.17,4.64)(1.32,4.48)(.7,4.46)(.96,4.37)(.36,4.33)(3.22,4.67)(3.58,4.64)(3.95,4.56)(4.16,4.56)(4.03,4.5)(.7,3.24)(.79,3.37)(1.2,2.99)(3.44,3.04)(3.05,2.99)(.36,3.63)(3.91,4.05)(-.11,3.76)(.02,3.82)(1.77,4.48)(1.97,4.4)(.5,3.85)(.55,4.2)(.7,4.0)(.85,3.75)(.9,4.1)(.95,3.6)(1.05,3.95)(1.1,3.9)(1.25,3.85)(1.3,4.0)(1.35,3.45)(1.5,3.5)(1.55,4.0)(1.6,3.75)(1.65,4.25)(1.7,3.95)(1.6,3.25)(1.8,3.2)(1.9,3.25)(1.75,2.95)(1.9,2.95)(2.05,2.95)(2.1,3.4)(2.2,3.95)(2.15,4.3)(2.25,4.05)(2.2,3.1)(2.3,3.3)(2.4,2.9)(2.5,3.15)(2.45,3.7)(2.55,3.4)(2.7,4.0)(2.65,4.3)(2.75,3.55)(2.85,3.4)(2.8,3.1)(2.95,3.3)(3.0,3.7)(3.1,4.0)(3.2,4.3)(3.35,4.4)(3.45,4.15)(3.55,4.45)(3.4,3.55)(3.55,3.55)(2.9,4.1)(3.0,4.3)(2.9,4.5)(2.3,4.0)(2.0,3.6)(1.15,3.6)(2.35,3.05)(2.6,3.05)}
{(-.39,5.03)(-.39,4.4)(-.39,4.11)(-.39,3.97)(-.39,3.86)(-.39,3.76)(-.39,3.71)(-.39,3.65)(-.39,3.53)(-.39,3.4)(-.39,3.24)(-.39,2.58)}
{(-0.494,3.704)(4.87,3.835)}
{(-.17,4.08)(.44,3.96)(1.12,3.82)(1.81,3.62)(2.5,3.62)(3.01,3.82)(3.44,4.02)(3.95,4.33)(4.33,4.5)}
\end{axis}
\end{tikzpicture}
\end{document}
